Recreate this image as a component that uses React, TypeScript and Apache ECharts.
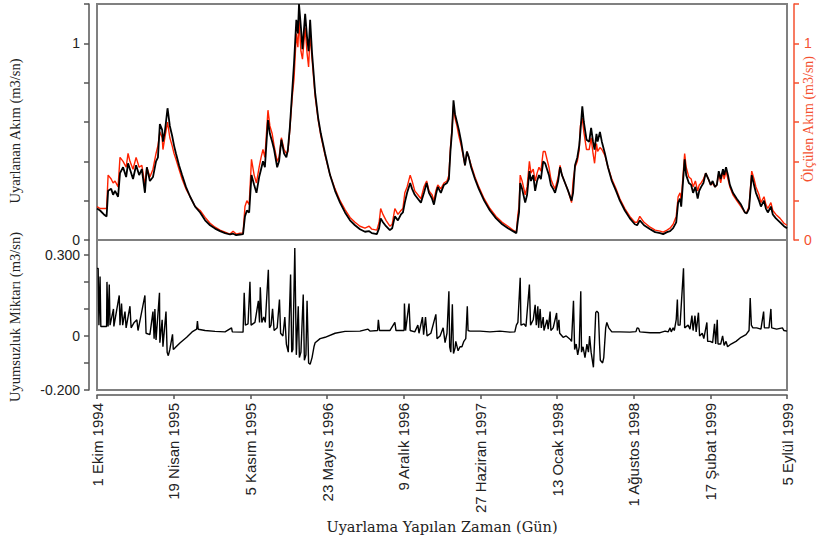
import React, { useEffect, useRef } from "react";
import * as echarts from "echarts";

// x-axis tick labels (every 200 days from 1 Ekim 1994)
const dateLabels = [
  "1 Ekim 1994",
  "19 Nisan 1995",
  "5 Kasım 1995",
  "23 Mayıs 1996",
  "9 Aralık 1996",
  "27 Haziran 1997",
  "13 Ocak 1998",
  "1 Ağustos 1998",
  "17 Şubat 1999",
  "5 Eylül 1999",
];

// day index of each reading in the upper panel
const days = [
  0, 8, 18, 25, 29, 37, 42, 47, 55, 60, 68, 76, 81, 86, 94, 102, 110, 117, 125, 130, 138, 146, 154, 159, 164, 170, 172, 177, 184, 190, 196, 201, 206, 214, 222, 232, 243, 256, 269, 282, 295, 308, 321, 334, 347, 355, 363, 373, 381,
  386, 391, 397, 403, 410, 416, 423, 428, 433, 438, 446, 451, 457, 462, 470, 475, 481, 488, 494, 498, 503, 509, 514, 520, 524, 527, 532, 536, 543, 548, 552, 556, 561, 569, 577, 584, 595, 608, 621, 634, 647, 660, 673, 686, 699, 710, 717, 730,
  736, 740, 746, 754, 764, 770, 777, 785, 793, 798, 803, 809, 817, 822, 829, 837, 845, 853, 860, 866, 874, 879, 884, 889, 897, 905, 913, 918, 922, 926, 930, 934, 939, 944, 950, 955, 960, 965, 970, 976, 986, 996, 1010, 1025, 1041, 1057, 1072, 1085, 1094,
  1098, 1101, 1104, 1109, 1117, 1122, 1128, 1132, 1138, 1143, 1148, 1153, 1158, 1164, 1169, 1174, 1179, 1184, 1190, 1195, 1203, 1208, 1213, 1221, 1229, 1238, 1242, 1247, 1253, 1258, 1261, 1266, 1270, 1277, 1284, 1289, 1294, 1298, 1303, 1306, 1312, 1317, 1325, 1333, 1343, 1354, 1364, 1377, 1390, 1403, 1409, 1416, 1427, 1443, 1456, 1469, 1477, 1487, 1495,
  1503, 1511, 1516, 1521, 1524, 1533, 1537, 1544, 1550, 1555, 1561, 1567, 1571, 1576, 1582, 1588, 1595, 1601, 1606, 1612, 1617, 1622, 1627, 1633, 1636, 1641, 1646, 1651, 1659, 1669, 1680, 1690, 1695, 1701, 1708, 1714, 1719, 1727, 1732, 1740, 1745, 1750, 1758, 1763, 1771, 1782, 1792, 1800,
];

// simulated flow (black)
const simulated = [
  0.16, 0.15, 0.13, 0.12, 0.25, 0.26, 0.23, 0.25, 0.22, 0.34, 0.37, 0.32, 0.39, 0.36, 0.31, 0.38, 0.33, 0.36, 0.24, 0.37, 0.30, 0.32, 0.40, 0.42, 0.59, 0.56, 0.50, 0.55, 0.67, 0.58, 0.53, 0.48, 0.44, 0.38, 0.33, 0.27, 0.22, 0.17, 0.14, 0.10, 0.075, 0.058, 0.045, 0.035, 0.028, 0.032, 0.025, 0.028, 0.03,
  0.12, 0.15, 0.14, 0.33, 0.28, 0.24, 0.32, 0.36, 0.40, 0.37, 0.61, 0.54, 0.50, 0.46, 0.37, 0.40, 0.51, 0.44, 0.42, 0.46, 0.57, 0.75, 0.90, 1.12, 1.05, 1.20, 1.08, 0.97, 1.15, 1.03, 0.96, 1.12, 0.95, 0.75, 0.62, 0.54, 0.44, 0.33, 0.25, 0.19, 0.14, 0.10, 0.075, 0.055, 0.042, 0.045, 0.035, 0.03,
  0.06, 0.11, 0.09, 0.07, 0.05, 0.06, 0.12, 0.10, 0.13, 0.14, 0.19, 0.24, 0.29, 0.26, 0.23, 0.21, 0.19, 0.24, 0.29, 0.24, 0.21, 0.18, 0.23, 0.27, 0.24, 0.28, 0.29, 0.31, 0.45, 0.55, 0.71, 0.64, 0.60, 0.56, 0.50, 0.44, 0.38, 0.45, 0.42, 0.37, 0.31, 0.26, 0.20, 0.15, 0.11, 0.08, 0.06, 0.045, 0.035,
  0.10, 0.14, 0.29, 0.26, 0.19, 0.23, 0.35, 0.30, 0.33, 0.25, 0.30, 0.33, 0.31, 0.40, 0.39, 0.36, 0.33, 0.28, 0.26, 0.24, 0.30, 0.37, 0.33, 0.29, 0.25, 0.20, 0.24, 0.38, 0.42, 0.48, 0.55, 0.68, 0.60, 0.51, 0.50, 0.57, 0.50, 0.46, 0.54, 0.50, 0.55, 0.50, 0.44, 0.37, 0.30, 0.25, 0.20, 0.15, 0.11, 0.08, 0.075, 0.10, 0.075, 0.055, 0.04, 0.035, 0.03, 0.04, 0.045,
  0.06, 0.09, 0.19, 0.21, 0.17, 0.41, 0.33, 0.29, 0.28, 0.24, 0.27, 0.21, 0.25, 0.27, 0.29, 0.34, 0.31, 0.28, 0.30, 0.27, 0.28, 0.35, 0.31, 0.36, 0.33, 0.37, 0.33, 0.28, 0.24, 0.21, 0.18, 0.14, 0.135, 0.16, 0.33, 0.28, 0.24, 0.20, 0.17, 0.20, 0.16, 0.14, 0.17, 0.13, 0.11, 0.09, 0.07, 0.06,
];

// observed flow (red)
const observed = [
  0.17, 0.16, 0.16, 0.16, 0.33, 0.31, 0.29, 0.30, 0.27, 0.42, 0.40, 0.37, 0.44, 0.40, 0.36, 0.42, 0.37, 0.38, 0.28, 0.37, 0.32, 0.36, 0.44, 0.48, 0.55, 0.52, 0.46, 0.52, 0.60, 0.52, 0.48, 0.44, 0.41, 0.36, 0.31, 0.26, 0.22, 0.17, 0.15, 0.115, 0.085, 0.065, 0.05, 0.04, 0.03, 0.045, 0.03, 0.035, 0.035,
  0.17, 0.20, 0.18, 0.41, 0.33, 0.29, 0.37, 0.42, 0.46, 0.42, 0.66, 0.58, 0.54, 0.48, 0.40, 0.42, 0.52, 0.46, 0.44, 0.45, 0.56, 0.72, 0.82, 1.05, 0.98, 1.12, 0.96, 0.92, 1.08, 0.95, 0.88, 1.05, 0.92, 0.73, 0.61, 0.53, 0.43, 0.33, 0.26, 0.20, 0.155, 0.115, 0.09, 0.07, 0.06, 0.07, 0.055, 0.05,
  0.09, 0.16, 0.13, 0.10, 0.07, 0.08, 0.16, 0.13, 0.15, 0.16, 0.24, 0.27, 0.33, 0.30, 0.25, 0.23, 0.21, 0.27, 0.30, 0.25, 0.23, 0.20, 0.25, 0.28, 0.26, 0.29, 0.30, 0.33, 0.47, 0.56, 0.68, 0.62, 0.58, 0.53, 0.48, 0.43, 0.38, 0.45, 0.42, 0.38, 0.32, 0.27, 0.21, 0.16, 0.12, 0.09, 0.07, 0.05, 0.04,
  0.13, 0.17, 0.33, 0.30, 0.23, 0.27, 0.40, 0.34, 0.36, 0.30, 0.34, 0.37, 0.35, 0.45, 0.45, 0.41, 0.37, 0.31, 0.28, 0.26, 0.32, 0.38, 0.33, 0.29, 0.25, 0.19, 0.30, 0.37, 0.40, 0.46, 0.58, 0.62, 0.55, 0.46, 0.46, 0.52, 0.44, 0.39, 0.49, 0.45, 0.47, 0.46, 0.43, 0.37, 0.31, 0.26, 0.21, 0.16, 0.12, 0.09, 0.09, 0.12, 0.09, 0.065, 0.05, 0.045, 0.04, 0.05, 0.06,
  0.08, 0.12, 0.22, 0.24, 0.20, 0.44, 0.37, 0.32, 0.31, 0.27, 0.30, 0.25, 0.28, 0.29, 0.31, 0.34, 0.31, 0.28, 0.29, 0.27, 0.28, 0.34, 0.29, 0.35, 0.31, 0.35, 0.31, 0.27, 0.23, 0.20, 0.17, 0.14, 0.14, 0.17, 0.35, 0.31, 0.27, 0.23, 0.19, 0.22, 0.18, 0.16, 0.19, 0.15, 0.13, 0.11, 0.085, 0.075,
];

// residual (lower panel)
const residDays = [
  0, 3, 5, 8, 10, 25, 26, 29, 32, 34, 43, 44, 58, 60, 64, 67, 73, 76, 86, 89, 97, 104, 107, 125, 128, 138, 146, 149, 151, 154, 163, 164, 170, 172, 180, 183, 186, 190, 197, 199, 203, 217, 234, 248, 260, 262, 264, 282, 308, 334, 351, 353, 381,
  384, 387, 394, 399, 402, 412, 421, 424, 426, 430, 435, 439, 447, 450, 454, 458, 462, 470, 476, 479, 485, 490, 494, 499, 505, 508, 511, 516, 520, 525, 528, 532, 538, 541, 545, 548, 552, 556, 561, 566, 569, 582, 595, 621, 647, 686, 707, 712, 732, 734, 737,
  764, 777, 780, 801, 802, 805, 814, 817, 829, 837, 840, 849, 852, 857, 861, 871, 884, 887, 895, 903, 908, 913, 918, 920, 923, 927, 930, 934, 936, 942, 947, 952, 957, 962, 966, 968, 973, 999, 1025, 1051, 1077, 1090, 1094, 1098, 1104, 1106, 1114, 1119,
  1128, 1131, 1138, 1143, 1146, 1150, 1152, 1156, 1159, 1164, 1166, 1174, 1177, 1182, 1184, 1190, 1199, 1201, 1205, 1207, 1216, 1224, 1234, 1238, 1243, 1246, 1250, 1254, 1258, 1262, 1264, 1268, 1273, 1278, 1282, 1285, 1289, 1295, 1298, 1301, 1304, 1308, 1311, 1313, 1319, 1322, 1327, 1330, 1335, 1343,
  1364, 1390, 1406, 1409, 1413, 1416, 1443, 1469, 1482, 1490, 1495, 1498, 1503, 1506, 1511, 1514, 1516, 1521, 1530, 1533, 1542, 1547, 1552, 1555, 1560, 1563, 1569, 1572, 1579, 1583, 1591, 1593, 1600, 1606, 1611, 1614, 1618, 1620, 1627, 1632, 1636, 1641, 1645, 1654, 1667, 1680, 1693, 1701, 1704, 1707, 1711, 1721, 1732, 1739, 1741, 1753, 1758, 1760, 1773, 1788, 1792, 1800,
];

const residual = [
  0.25, 0.25, 0.04, 0.22, 0.035, 0.035, 0.20, 0.035, 0.19, 0.04, 0.10, 0.035, 0.15, 0.04, 0.12, 0.04, 0.09, 0.03, 0.11, 0.03, 0.05, 0.06, 0.02, 0.15, 0.01, 0.005, 0.09, -0.01, 0.10, -0.015, 0.16, -0.025, 0.06, -0.04, 0.09, -0.06, -0.073, -0.05, 0.006, -0.05, -0.045, -0.025, -0.005, 0.015, 0.025, 0.055, 0.025, 0.02, 0.017, 0.015, 0.03, 0.015, 0.014,
  0.16, 0.04, 0.045, 0.20, 0.04, 0.05, 0.13, 0.05, 0.18, 0.05, 0.07, 0.05, 0.245, 0.03, 0.04, 0.10, 0.02, 0.03, 0.135, 0.01, 0.0, 0.07, -0.03, -0.06, 0.227, -0.06, -0.05, 0.325, -0.07, 0.11, -0.08, -0.06, 0.153, -0.09, -0.07, 0.13, -0.10, -0.105, -0.08, -0.04, -0.025, -0.01, -0.005, 0.01, 0.017, 0.018, 0.025, 0.018, 0.02, 0.06, 0.02,
  0.02, 0.05, 0.02, 0.02, 0.12, 0.02, 0.12, 0.02, 0.015, 0.04, 0.01, 0.07, 0.005, 0.07, 0.0, 0.01, 0.08, -0.01, 0.0, 0.03, -0.025, 0.01, 0.165, -0.04, -0.06, 0.117, -0.065, -0.045, -0.02, -0.055, -0.04, -0.04, -0.02, -0.01, 0.11, 0.02, 0.018, 0.018, 0.015, 0.018, 0.014, 0.015, 0.04, 0.05, 0.215, 0.04, 0.045, 0.035,
  0.19, 0.04, 0.06, 0.115, 0.04, 0.11, 0.03, 0.10, 0.03, 0.07, 0.02, 0.06, 0.025, 0.09, 0.02, 0.03, 0.085, 0.02, 0.06, 0.01, -0.005, 0.0, -0.012, -0.02, 0.13, -0.05, -0.03, -0.07, -0.04, 0.165, -0.06, -0.04, -0.08, -0.03, -0.06, 0.0, -0.06, -0.116, -0.02, 0.086, 0.092, 0.085, -0.03, -0.09, -0.10, -0.08, 0.03, 0.05, 0.03, 0.015,
  0.015, 0.014, 0.016, 0.03, 0.028, 0.015, 0.012, 0.012, 0.018, 0.015, 0.03, 0.015, 0.03, 0.02, 0.06, 0.135, 0.04, 0.04, 0.25, 0.03, 0.04, 0.025, 0.075, 0.02, 0.075, 0.015, 0.086, 0.0, 0.01, -0.01, 0.05, -0.02, -0.02, -0.025, 0.045, -0.03, 0.06, -0.03, -0.03, 0.0, -0.035, -0.02, -0.04, -0.03, -0.02, -0.005, 0.005, 0.02, 0.14, 0.04, 0.03, 0.03, 0.025, 0.09, 0.03, 0.03, 0.10, 0.03, 0.025, 0.03, 0.02, 0.018,
];

const AXIS_GRAY = "#555555";
const BOX_GRAY = "#808080";
const RED_AXIS = "#f4512f";
const RED_LINE = "#ff2200";

export default function App() {
  const ref = useRef<HTMLDivElement>(null);

  useEffect(() => {
    if (!ref.current) return;
    const chart = echarts.init(ref.current, undefined, { renderer: "svg" });

    const simData = days.map((d, i) => [d, simulated[i]]);
    const obsData = days.map((d, i) => [d, observed[i]]);
    const resData = residDays.map((d, i) => [d, residual[i]]);

    const sans = "'Liberation Sans', Arial, sans-serif";
    const serif = "'Liberation Serif', 'Times New Roman', serif";

    const labelFmt01 = (v: number) => {
      const r = Math.round(v * 10);
      return r === 0 ? "0" : r === 10 ? "1" : "";
    };

    chart.setOption({
      animation: false,
      backgroundColor: "#ffffff",
      grid: [
        { left: 97, top: 4, width: 690, height: 236, show: true, borderColor: BOX_GRAY, borderWidth: 2, backgroundColor: "transparent", containLabel: false, outerBoundsMode: "none" },
        { left: 97, top: 240, width: 690, height: 150, show: true, borderColor: BOX_GRAY, borderWidth: 2, backgroundColor: "transparent", containLabel: false, outerBoundsMode: "none" },
      ],
      xAxis: [
        { type: "value", gridIndex: 0, min: 0, max: 1800, interval: 200, show: false },
        {
          type: "value",
          gridIndex: 1,
          min: 0,
          max: 1800,
          interval: 200,
          offset: 5,
          axisLine: { show: true, onZero: false, lineStyle: { color: AXIS_GRAY, width: 1.5 } },
          axisTick: { show: true, inside: false, length: 4, lineStyle: { color: AXIS_GRAY, width: 1.5 } },
          splitLine: { show: false },
          axisLabel: {
            rotate: 90,
            margin: 8,
            color: "#222",
            fontFamily: sans,
            fontSize: 15,
            formatter: (v: number) => dateLabels[Math.round(v / 200)] ?? "",
          },
        },
      ],
      yAxis: [
        {
          type: "value",
          gridIndex: 0,
          min: 0,
          max: 1.2,
          interval: 0.2,
          offset: 8,
          axisLine: { show: true, onZero: false, lineStyle: { color: AXIS_GRAY, width: 1.5 } },
          axisTick: { show: true, length: 5, lineStyle: { color: AXIS_GRAY, width: 1.5 } },
          splitLine: { show: false },
          axisLabel: { margin: 9, color: "#222", fontFamily: sans, fontSize: 14, formatter: labelFmt01 },
        },
        {
          type: "value",
          gridIndex: 0,
          position: "right",
          min: 0,
          max: 1.2,
          interval: 0.2,
          offset: 7,
          axisLine: { show: true, onZero: false, lineStyle: { color: RED_AXIS, width: 1.5 } },
          axisTick: { show: true, length: 5, lineStyle: { color: RED_AXIS, width: 1.5 } },
          splitLine: { show: false },
          axisLabel: { margin: 10, color: RED_AXIS, fontFamily: sans, fontSize: 14, formatter: labelFmt01 },
        },
        {
          type: "value",
          gridIndex: 1,
          min: -0.2,
          max: 0.355,
          interval: 0.1,
          offset: 8,
          axisLine: { show: true, onZero: false, lineStyle: { color: AXIS_GRAY, width: 1.5 } },
          axisTick: { show: true, length: 5, lineStyle: { color: AXIS_GRAY, width: 1.5 } },
          splitLine: { show: false },
          axisLabel: {
            margin: 9,
            color: "#222",
            fontFamily: sans,
            fontSize: 14,
            showMaxLabel: false,
            formatter: (v: number) => {
              const r = Math.round(v * 1000);
              if (r === 300) return "0.300";
              if (r === 0) return "0";
              if (r === -200) return "-0.200";
              return "";
            },
          },
        },
      ],
      graphic: [
        {
          type: "text",
          x: 15,
          y: 131,
          rotation: Math.PI / 2,
          style: { text: "Uyarlanan Akım (m3/sn)", font: `14.5px ${serif}`, fill: "#222", align: "center", verticalAlign: "middle" },
        },
        {
          type: "text",
          x: 15,
          y: 317,
          rotation: Math.PI / 2,
          style: { text: "Uyumsuzluk Miktarı (m3/sn)", font: `14.5px ${serif}`, fill: "#222", align: "center", verticalAlign: "middle" },
        },
        {
          type: "text",
          x: 808,
          y: 119,
          rotation: Math.PI / 2,
          style: { text: "Ölçülen Akım (m3/sn)", font: `14px ${serif}`, fill: RED_AXIS, align: "center", verticalAlign: "middle" },
        },
        {
          type: "text",
          x: 442,
          y: 527,
          style: { text: "Uyarlama Yapılan Zaman (Gün)", font: `14.5px 'DejaVu Serif', serif`, fill: "#222", align: "center", verticalAlign: "middle" },
        },
      ],
      series: [
        {
          name: "Ölçülen",
          type: "line",
          xAxisIndex: 0,
          yAxisIndex: 1,
          data: obsData,
          showSymbol: false,
          lineStyle: { color: RED_LINE, width: 1.4 },
          itemStyle: { color: RED_LINE },
          z: 2,
        },
        {
          name: "Uyarlanan",
          type: "line",
          xAxisIndex: 0,
          yAxisIndex: 0,
          data: simData,
          showSymbol: false,
          lineStyle: { color: "#000000", width: 1.8 },
          itemStyle: { color: "#000000" },
          z: 3,
        },
        {
          name: "Uyumsuzluk",
          type: "line",
          xAxisIndex: 1,
          yAxisIndex: 2,
          data: resData,
          showSymbol: false,
          lineStyle: { color: "#000000", width: 1.4 },
          itemStyle: { color: "#000000" },
          z: 3,
        },
      ],
    });

    return () => chart.dispose();
  }, []);

  return (
    <div
      ref={ref}
      style={{ position: "fixed", left: 0, top: 0, width: 818, height: 540, background: "#fff" }}
    />
  );
}
